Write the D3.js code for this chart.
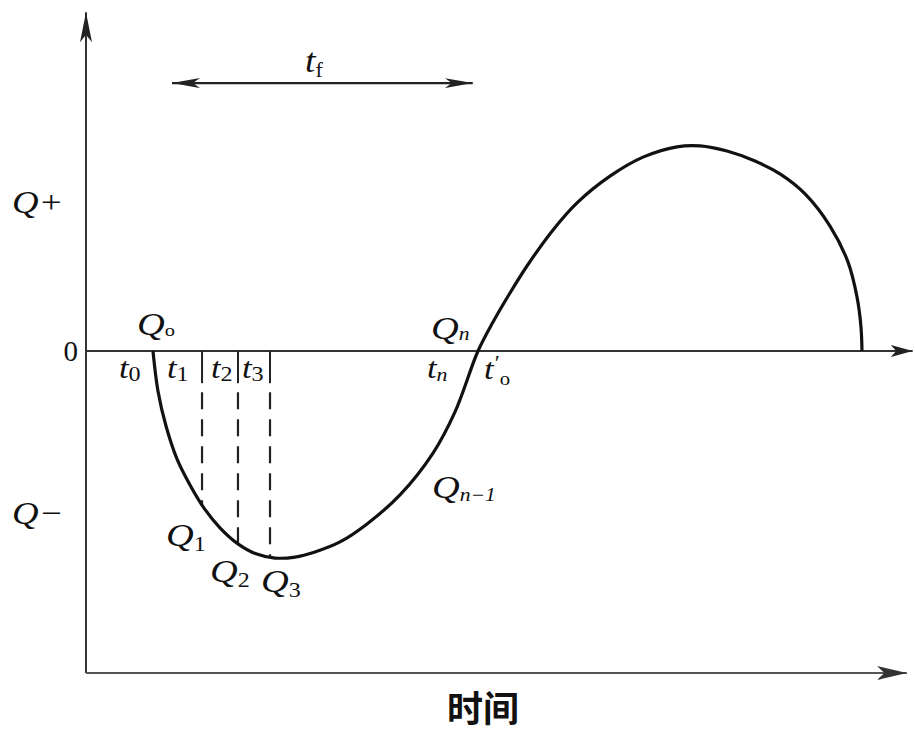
<!DOCTYPE html>
<html>
<head>
<meta charset="utf-8">
<script src="https://cdn.jsdelivr.net/npm/d3@7"></script>
<style>
  html, body { margin: 0; padding: 0; background: #fff; }
  svg { display: block; }
  .it { font-family: "Liberation Serif", "DejaVu Serif", serif; font-style: italic; }
</style>
</head>
<body>
<svg id="chart" width="915" height="734"></svg>
<script>
// ---- data (time units, flow Q units) ----
const curveTime = [8.07, 8.67, 9.64, 10.96, 12.53, 14.22, 16.14, 18.31, 20.48, 22.77, 25.18, 27.59, 30.6, 33.86, 37.83, 41.81, 44.46, 47.23, 49.04, 51.08, 53.13, 56.27, 59.16, 63.13, 67.11, 71.2, 73.98, 77.23, 80.6, 83.61, 86.63, 89.64, 91.81, 92.89, 93.37, 93.49];
const curveQ    = [0, -12.4, -23.3, -33.5, -41.6, -48.8, -54.9, -59.9, -63.0, -64.3, -64.0, -62.4, -59.3, -53.7, -44.7, -31.7, -18.9, 0, 9.0, 18.0, 26.4, 37.6, 46.0, 54.3, 60.2, 63.4, 63.7, 62.1, 59.0, 55.0, 48.8, 38.8, 27.6, 16.8, 7.5, 0];
const sampleTimes = [13.98, 18.31, 22.17];        // t1, t2, t3
const sampleQ     = [-47.8, -59.9, -64.1];        // Q1, Q2, Q3
const tfSpan      = [10.36, 46.6];                // tf arrow extent
const tfLevel     = 83.2;
const axisLabels  = { qPlus: "Q+", qMinus: "Q−", zero: "0", time: "时间" };

// ---- scales ----
const svg = d3.select("#chart");
const x = d3.scaleLinear().domain([0, 100]).range([86, 916]);
const y = d3.scaleLinear().domain([-100, 100]).range([673, 29]);

// ---- markers ----
const defs = svg.append("defs");
function marker(id, len, hw, color) {
  defs.append("marker").attr("id", id)
    .attr("viewBox", `0 ${-hw} ${len} ${2*hw}`)
    .attr("refX", len).attr("refY", 0)
    .attr("markerUnits", "userSpaceOnUse")
    .attr("markerWidth", len).attr("markerHeight", 2*hw)
    .attr("orient", "auto-start-reverse")
    .append("path")
    .attr("d", `M0,${-hw} L${len},0 L0,${hw} L${len*0.25},0 Z`)
    .attr("fill", color);
}
marker("arrY", 30, 6, "#222");
marker("arrX", 22, 6, "#222");
marker("arrB", 30, 7, "#333");
marker("arrT", 28, 5, "#222");

// ---- axes ----
svg.append("line")
  .attr("x1", x(0)).attr("y1", y(-100))
  .attr("x2", x(0)).attr("y2", y(105.2))
  .attr("stroke", "#333").attr("stroke-width", 2)
  .attr("marker-end", "url(#arrY)");
svg.append("line")
  .attr("x1", x(0)).attr("y1", y(0))
  .attr("x2", x(99.6)).attr("y2", y(0))
  .attr("stroke", "#333").attr("stroke-width", 2)
  .attr("marker-end", "url(#arrX)");
svg.append("line")
  .attr("x1", x(0)).attr("y1", y(-100))
  .attr("x2", x(98.9)).attr("y2", y(-100))
  .attr("stroke", "#555").attr("stroke-width", 2)
  .attr("marker-end", "url(#arrB)");

// tf double arrow
svg.append("line")
  .attr("x1", x(tfSpan[0])).attr("y1", y(tfLevel))
  .attr("x2", x(tfSpan[1])).attr("y2", y(tfLevel))
  .attr("stroke", "#222").attr("stroke-width", 2.2)
  .attr("marker-start", "url(#arrT)")
  .attr("marker-end", "url(#arrT)");

// ---- sample verticals ----
sampleTimes.forEach((t, i) => {
  svg.append("line")
    .attr("x1", x(t)).attr("y1", y(0))
    .attr("x2", x(t)).attr("y2", y(-10))
    .attr("stroke", "#222").attr("stroke-width", 2);
  svg.append("line")
    .attr("x1", x(t)).attr("y1", y(-12.8))
    .attr("x2", x(t)).attr("y2", y(sampleQ[i]))
    .attr("stroke", "#222").attr("stroke-width", 2.2)
    .attr("stroke-dasharray", "17,10");
});

// ---- curve ----
const line = d3.line()
  .x((d, i) => x(curveTime[i]))
  .y((d, i) => y(curveQ[i]))
  .curve(d3.curveCatmullRom.alpha(0.5));
svg.append("path")
  .datum(curveTime)
  .attr("d", line)
  .attr("fill", "none")
  .attr("stroke", "#111")
  .attr("stroke-width", 3.2)
  .attr("stroke-linejoin", "round");

// ---- labels ----
function stretched(px, py, sx) {
  return `translate(${px},${py}) scale(${sx},1) translate(${-px},${-py})`;
}
function label(px, py, main, sub, opts = {}) {
  const size = opts.size || 32;
  const t = svg.append("text").attr("class", "it")
    .attr("x", px).attr("y", py)
    .attr("font-size", size).attr("fill", "#111")
    .attr("transform", stretched(px, py, opts.scaleX || 1.2));
  t.append("tspan").text(main);
  if (opts.prime) {
    t.append("tspan").attr("font-style", "normal").attr("font-size", 20)
      .attr("dx", 1).attr("dy", -9).text("′");
  }
  if (sub) {
    t.append("tspan")
      .attr("font-size", opts.subSize || size * 0.62)
      .attr("font-style", opts.subItalic ? "italic" : "normal")
      .attr("dx", opts.subDx || 0)
      .attr("dy", opts.subDy !== undefined ? opts.subDy : size * 0.2)
      .text(sub);
  }
  return t;
}

// Q axis labels
svg.append("text").attr("class", "it").attr("x", 12).attr("y", 213)
  .attr("font-size", 32).attr("fill", "#111")
  .attr("transform", stretched(12, 213, 1.15))
  .text(axisLabels.qPlus);
svg.append("text").attr("class", "it").attr("x", 12).attr("y", 524)
  .attr("font-size", 32).attr("fill", "#111")
  .attr("transform", stretched(12, 524, 1.15))
  .text(axisLabels.qMinus);
svg.append("text").attr("x", x(0) - 8).attr("y", y(0) + 10)
  .attr("text-anchor", "end")
  .attr("font-family", "Liberation Serif, serif").attr("font-size", 29).attr("fill", "#111")
  .text(axisLabels.zero);

// Q points
label(137, 335, "Q", "o", { subSize: 17, subDy: 1 });
label(431, 339, "Q", "n", { subItalic: true, subSize: 18, subDy: 1 });
label(432, 498, "Q", "n−1", { subItalic: true, subSize: 18, subDy: 3 });
label(166, 546, "Q", "1", { subSize: 20, subDy: 5 });
label(210, 582, "Q", "2", { subSize: 20, subDy: 5 });
label(261, 592, "Q", "3", { subSize: 20, subDy: 5 });

// t labels
const tY = y(0) + 27;
label(119, tY, "t", "0", { size: 30, scaleX: 1.15, subSize: 21, subDy: 3 });
label(167, tY, "t", "1", { size: 30, scaleX: 1.15, subSize: 21, subDy: 3 });
label(211, tY, "t", "2", { size: 30, scaleX: 1.15, subSize: 21, subDy: 3 });
label(242, tY, "t", "3", { size: 30, scaleX: 1.15, subSize: 21, subDy: 3 });
label(427, tY, "t", "n", { size: 30, scaleX: 1.15, subItalic: true, subSize: 19, subDy: 3 });
label(484, tY + 1, "t", "o", { size: 30, scaleX: 1.15, prime: true, subSize: 18, subDx: 0, subDy: 15 });

// tf label
label(305, 72, "t", "f", { size: 34, scaleX: 1.1, subSize: 20, subDy: 5 });

// time axis title
svg.append("text")
  .attr("x", 483).attr("y", 722)
  .attr("text-anchor", "middle")
  .attr("font-family", "Noto Sans CJK SC, sans-serif")
  .attr("font-weight", "bold")
  .attr("font-size", 36).attr("fill", "#111")
  .text(axisLabels.time);
</script>
</body>
</html>
